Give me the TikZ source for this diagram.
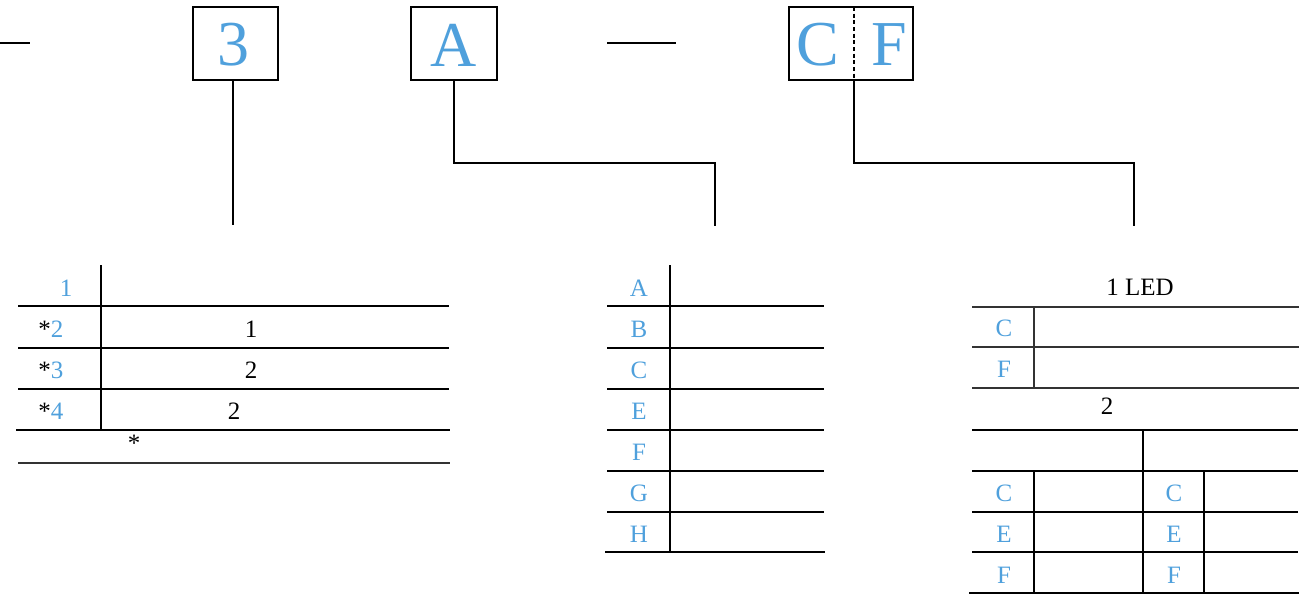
\documentclass[tikz,border=0pt]{standalone}
\usepackage{fontspec}
\setmainfont{Liberation Serif}
\definecolor{lblue}{RGB}{79,160,220}
\begin{document}
\begin{tikzpicture}[x=0.75pt,y=-0.75pt,
  thickl/.style={line width=1.5pt,black},
  thinl/.style={line width=0.8pt,black},
  grayl/.style={line width=0.9pt,black!80},
  bigbox/.style={draw,line width=1.5pt,inner sep=0pt,minimum height=54.75pt},
  bigtxt/.style={text=lblue,font=\fontsize{48}{50}\selectfont,inner sep=0pt},
  cell/.style={font=\fontsize{18.75}{22}\selectfont,inner sep=0pt},
  bcell/.style={cell,text=lblue}]
\useasboundingbox (0,0) rectangle (1306,600);
% top row
\coordinate (d1a) at (0,43); \coordinate (d1b) at (30,43);
\draw[thickl] (d1a) -- (d1b);
\coordinate (d2a) at (607,43); \coordinate (d2b) at (676,43);
\draw[thickl] (d2a) -- (d2b);
\node[bigbox,minimum width=63.75pt] (b3) at (235.5,43.5) {};
\node[bigtxt] (t3) at (233,45) {3};
\node[bigbox,minimum width=64.5pt] (bA) at (454,43.5) {};
\node[bigtxt] (tA) at (454,45) {A};
\node[bigbox,minimum width=93pt] (bCF) at (851,43) {};
\node[bigtxt] (tC) at (818,45) {C};
\node[bigtxt] (tF) at (889,45) {F};
\coordinate (cfT) at (854,7); \coordinate (cfB) at (854,79);
\draw[line width=0.8pt,dashed,dash pattern=on 3pt off 2pt] (cfT) -- (cfB);
% connectors
\coordinate (e3) at (233,225);
\draw[thinl] (b3.south -| e3) -- (e3);
\coordinate (kA1) at (454,163); \coordinate (kA2) at (715,163); \coordinate (eA) at (715,226);
\draw[thinl] (bA.south) -- (kA1) -- (kA2) -- (eA);
\coordinate (kC1) at (854,163); \coordinate (kC2) at (1134,163); \coordinate (eC) at (1134,226);
\draw[thinl] (cfB) -- (kC1) -- (kC2) -- (eC);
% left table
\draw[thickl] (101,265) -- (101,430);
\foreach \y in {306,348,389} \draw[thickl] (18,\y) -- (449,\y);
\draw[thickl] (16,430) -- (450,430);
\draw[grayl] (18,463) -- (450,463);
\node[bcell] (l1) at (66,288) {1};
\node[cell] (l2) at (51,329) {*\textcolor{lblue}{2}};
\node[cell] (l2v) at (251,329) {1};
\node[cell] (l3) at (51,370) {*\textcolor{lblue}{3}};
\node[cell] (l3v) at (251,370) {2};
\node[cell] (l4) at (51,411) {*\textcolor{lblue}{4}};
\node[cell] (l4v) at (234,411) {2};
\node[cell] (l5) at (134,443) {*};
% middle table
\draw[thickl] (670,265) -- (670,552);
\foreach \y in {306,348,389,430,471,512} \draw[thickl] (607,\y) -- (824,\y);
\draw[thickl] (605,552) -- (825,552);
\foreach \t/\y in {A/288,B/329,C/370,E/411,F/452,G/493,H/534}
  \node[bcell] (m\t) at (639,\y) {\t};
% right table
\node[cell] (led) at (1140,287) {1 LED};
\foreach \y in {307,347,388} \draw[grayl] (972,\y) -- (1299,\y);
\draw[grayl] (1034,306) -- (1034,388);
\node[bcell] (rC) at (1004,328) {C};
\node[bcell] (rF) at (1004,369) {F};
\node[cell] (r2) at (1107,406) {2};
\foreach \y in {430,471,512,552} \draw[thickl] (972,\y) -- (1298,\y);
\draw[thickl] (969,593) -- (1299,593);
\draw[thickl] (1143,430) -- (1143,593);
\draw[thickl] (1034,471) -- (1034,593);
\draw[thickl] (1204,471) -- (1204,593);
\foreach \t/\y in {C/493,E/534,F/575} {
  \node[bcell] (rl\t) at (1004,\y) {\t};
  \node[bcell] (rr\t) at (1174,\y) {\t};
}
\end{tikzpicture}
\end{document}
